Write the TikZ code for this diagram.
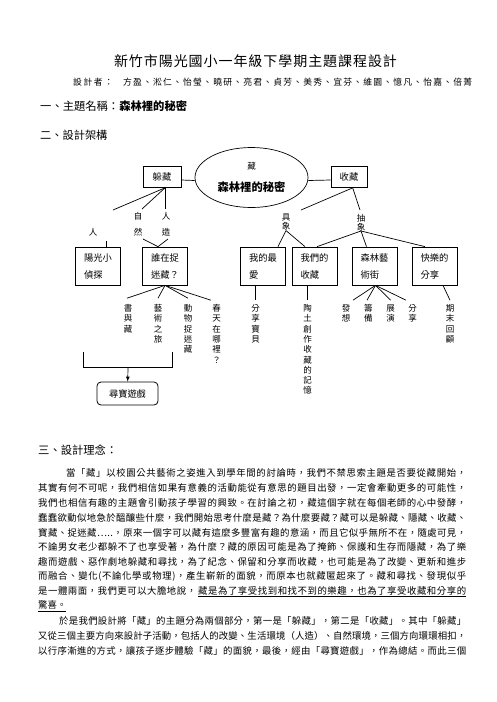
\documentclass[tikz,border=0pt]{standalone}
\usepackage{fontspec}
\setmainfont{Noto Sans CJK TC}
\usetikzlibrary{shapes.geometric}
\ExplSyntaxOn
\NewDocumentCommand\spreadchars{m}{\tl_map_inline:nn{#1}{##1\hfil}\unskip}
\ExplSyntaxOff
\newcommand\spreadbox[2]{\hbox to #1{\spreadchars{#2}}}

\begin{document}
\begin{tikzpicture}[
		x=1pt, y=-1pt,
		mybox/.style={
				draw=black,
				line width=0.7pt,
				shape=rectangle,
				minimum width=45pt,
				minimum height=38pt,
				inner sep=0pt,
				align=left,
				font=\fontsize{9.3}{17}\selectfont
			},
		myellipse/.style={
				draw=black,
				line width=0.7pt,
				shape=ellipse,
				minimum width=113pt,
				minimum height=60pt,
				inner sep=0pt,
				align=center,
				font=\fontsize{11.3}{22}\selectfont
			},
		roundbox/.style={
				draw=black,
				line width=0.8pt,
				rounded corners=4pt,
				minimum width=61pt,
				minimum height=23pt,
				inner sep=0pt,
				font=\fontsize{9.2}{10}\selectfont
			},
		vtext/.style={
				anchor=north,
				align=center,
				inner sep=0pt,
				font=\fontsize{8.5}{10.3}\selectfont
			},
		headtext/.style={
				anchor=west,
				inner sep=0pt
			},
		bodytext/.style={
				anchor=west,
				inner sep=0pt,
				font=\fontsize{9.4}{10}\selectfont
			},
		link/.style={
				draw=black,
				line width=0.7pt
			},
	]
	\fill [white] (0,0) rectangle (496,702);
	\useasboundingbox (0,0) rectangle (496,702);
	% header
	\node [headtext, anchor=center, font=\fontsize{14}{14}\selectfont] (60) at (255.5,61) {\spreadbox{283pt}{新竹市陽光國小一年級下學期主題課程設計}};
	\node [headtext, font=\fontsize{8.8}{9}\selectfont] (61) at (73,82.5) {\spreadbox{40pt}{設計者：}};
	\node [headtext, font=\fontsize{8.8}{9}\selectfont] (62) at (123,82.5) {\spreadbox{349pt}{方盈、淞仁、怡瑩、曉研、亮君、貞芳、美秀、宜芬、維園、憶凡、怡嘉、倍菁}};
	\node [headtext, font=\fontsize{11.3}{12}\selectfont] (63) at (40,106) {一、主題名稱：\textbf{森林裡的秘密}};
	\node [headtext, font=\fontsize{11.2}{12}\selectfont] (64) at (40,135) {二、設計架構};
	% diagram
	\node [myellipse] (1) at (251.5,177.5) {{\fontsize{8.5}{9}\selectfont 藏}\\\textbf{森林裡的秘密}};
	\node [mybox, minimum width=38pt, minimum height=21pt] (2) at (162,177) {躲藏};
	\node [mybox, minimum width=36pt, minimum height=21pt] (3) at (349,177) {收藏};
	\node [mybox] (4) at (98,266) {陽光小\\偵探};
	\node [mybox] (5) at (165,266) {誰在捉\\迷藏？};
	\node [mybox] (6) at (263,266) {我的最\\愛};
	\node [mybox] (7) at (314.5,266) {我們的\\收藏};
	\node [mybox] (8) at (374.5,266) {森林藝\\術街};
	\node [mybox] (9) at (434.5,266) {快樂的\\分享};
	\node [roundbox] (10) at (127.5,393.5) {尋寶遊戲};
	\node [vtext, anchor=center] (11) at (93,232) {人};
	\node [vtext, font=\fontsize{8.5}{16}\selectfont] (12) at (138,211.8) {自\\然};
	\node [vtext, font=\fontsize{8.5}{16}\selectfont] (13) at (166,211.8) {人\\造};
	\node [vtext, font=\fontsize{8.5}{9}\selectfont] (14) at (286,213.8) {具\\象};
	\node [vtext, font=\fontsize{8.5}{9}\selectfont] (15) at (361,213.8) {抽\\象};
	\node [vtext] (16) at (128,304.2) {書\\與\\藏};
	\node [vtext] (17) at (158,304.2) {藝\\術\\之\\旅};
	\node [vtext] (18) at (188,304.2) {動\\物\\捉\\迷\\藏};
	\node [vtext] (19) at (216.7,304.2) {春\\天\\在\\哪\\裡\\？};
	\node [vtext] (20) at (255.5,304.2) {分\\享\\寶\\貝};
	\node [vtext] (21) at (307.5,304.2) {陶\\土\\創\\作\\收\\藏\\的\\記\\憶};
	\node [vtext] (22) at (346,304.2) {發\\想};
	\node [vtext] (23) at (368.3,304.2) {籌\\備};
	\node [vtext] (24) at (390.7,304.2) {展\\演};
	\node [vtext] (25) at (412.7,304.2) {分\\享};
	\node [vtext] (26) at (450,304.2) {期\\末\\回\\顧};
	\coordinate (30) at (113,210);
	\coordinate (31) at (142,209);
	\coordinate (32) at (165,209);
	\coordinate (33) at (106,241);
	\coordinate (34) at (143,239);
	\coordinate (35) at (168,239);
	\coordinate (36) at (301,210);
	\coordinate (37) at (360,210);
	\coordinate (38) at (83,352);
	\coordinate (39) at (83,367);
	\coordinate (40) at (172,367);
	\coordinate (41) at (172,352);
	\coordinate (42) at (128,367);
	\draw [link] ([yshift=-3pt]2.east) -- ([yshift=-3pt]1.west);
	\draw [link] ([yshift=-3pt]1.east) -- ([yshift=-3pt]3.west);
	\draw [link] ([xshift=3pt]2.south) -- (30);
	\draw [link] ([xshift=3pt]2.south) -- (31);
	\draw [link] ([xshift=3pt]2.south) -- (32);
	\draw [link] (33) -- (33 |- 4.north);
	\draw [link] (34) -- ([xshift=-7pt]5.north);
	\draw [link] (35) -- ([xshift=-7pt]5.north);
	\draw [link] ([xshift=3.7pt]3.south) -- (36);
	\draw [link] ([xshift=3.7pt]3.south) -- (37);
	\draw [link] (14.south) -- ([xshift=15pt]6.north);
	\draw [link] (14.south) -- ([xshift=-9.5pt]7.north);
	\draw [link] (15.south) -- ([xshift=2.5pt]7.north);
	\draw [link] (15.south) -- ([xshift=-8pt]8.north);
	\draw [link] (15.south) -- ([xshift=-9.5pt]9.north);
	\draw [link] (5.south) -- ([xshift=-1pt,yshift=6pt]16.north);
	\draw [link] (5.south) -- ([yshift=6pt]17.north);
	\draw [link] (5.south) -- ([yshift=6pt]18.north);
	\draw [link] (5.south) -- ([xshift=-5.7pt,yshift=4pt]19.north);
	\draw [link] (6.south -| 20.north) -- ([yshift=4pt]20.north);
	\draw [link] (7.south -| 21.north) -- ([yshift=4pt]21.north);
	\draw [link] ([xshift=1pt]8.south) -- ([xshift=7pt,yshift=4pt]22.north);
	\draw [link] ([xshift=1pt]8.south) -- ([xshift=-1.3pt,yshift=4pt]23.north);
	\draw [link] ([xshift=1pt]8.south) -- ([yshift=4pt]24.north);
	\draw [link] ([xshift=1pt]8.south) -- ([xshift=-6.7pt,yshift=4pt]25.north);
	\draw [link] ([xshift=8.5pt]9.south) -- ([yshift=4pt]26.north);
	\draw [link] (38) -- (39) -- (40) -- (41);
	\draw [link, -latex] (42) -- (10);
	% text
	\node [headtext, font=\fontsize{11.3}{12}\selectfont] (65) at (38,450) {三、設計理念：};
	\node [bodytext] (70) at (66,473.3) {\spreadbox{400pt}{當「藏」以校園公共藝術之姿進入到學年間的討論時，我們不禁思索主題是否要從藏開始，}};
	\node [bodytext] (71) at (38,488.1) {\spreadbox{428pt}{其實有何不可呢，我們相信如果有意義的活動能從有意思的題目出發，一定會牽動更多的可能性，}};
	\node [bodytext] (72) at (38,502.9) {\spreadbox{428pt}{我們也相信有趣的主題會引動孩子學習的興致。在討論之初，藏這個字就在每個老師的心中發酵，}};
	\node [bodytext] (73) at (38,517.6) {\spreadbox{428pt}{蠢蠢欲動似地急於醞釀些什麼，我們開始思考什麼是藏？為什麼要藏？藏可以是躲藏、隱藏、收藏、}};
	\node [bodytext] (74) at (38,532.4) {\spreadbox{428pt}{寶藏、捉迷藏…..，原來一個字可以藏有這麼多豐富有趣的意涵，而且它似乎無所不在，隨處可見，}};
	\node [bodytext] (75) at (38,547.2) {\spreadbox{428pt}{不論男女老少都躲不了也享受著，為什麼？藏的原因可能是為了掩飾、保護和生存而隱藏，為了樂}};
	\node [bodytext] (76) at (38,562.0) {\spreadbox{428pt}{趣而遊戲、惡作劇地躲藏和尋找，為了紀念、保留和分享而收藏，也可能是為了改變、更新和進步}};
	\node [bodytext] (77) at (38,576.8) {\spreadbox{428pt}{而融合、變化(不論化學或物理)，產生嶄新的面貌，而原本也就藏匿起來了。藏和尋找、發現似乎}};
	\node [bodytext] (78) at (38,591.5) {\hbox to 428pt{\spreadbox{158pt}{是一體兩面，我們更可以大膽地說，}\hfil\underline{\spreadbox{268pt}{藏是為了享受找到和找不到的樂趣，也為了享受收藏和分享的}}}};
	\node [bodytext] (79) at (38,606.3) {\underline{驚喜。}};
	\node [bodytext] (80) at (59,621.1) {\spreadbox{407pt}{於是我們設計將「藏」的主題分為兩個部分，第一是「躲藏」，第二是「收藏」。其中「躲藏」}};
	\node [bodytext] (81) at (38,635.9) {\spreadbox{428pt}{又從三個主要方向來設計子活動，包括人的改變、生活環境（人造）、自然環境，三個方向環環相扣，}};
	\node [bodytext] (82) at (38,650.7) {\spreadbox{428pt}{以行序漸進的方式，讓孩子逐步體驗「藏」的面貌，最後，經由「尋寶遊戲」，作為總結。而此三個}};
\end{tikzpicture}
\end{document}
